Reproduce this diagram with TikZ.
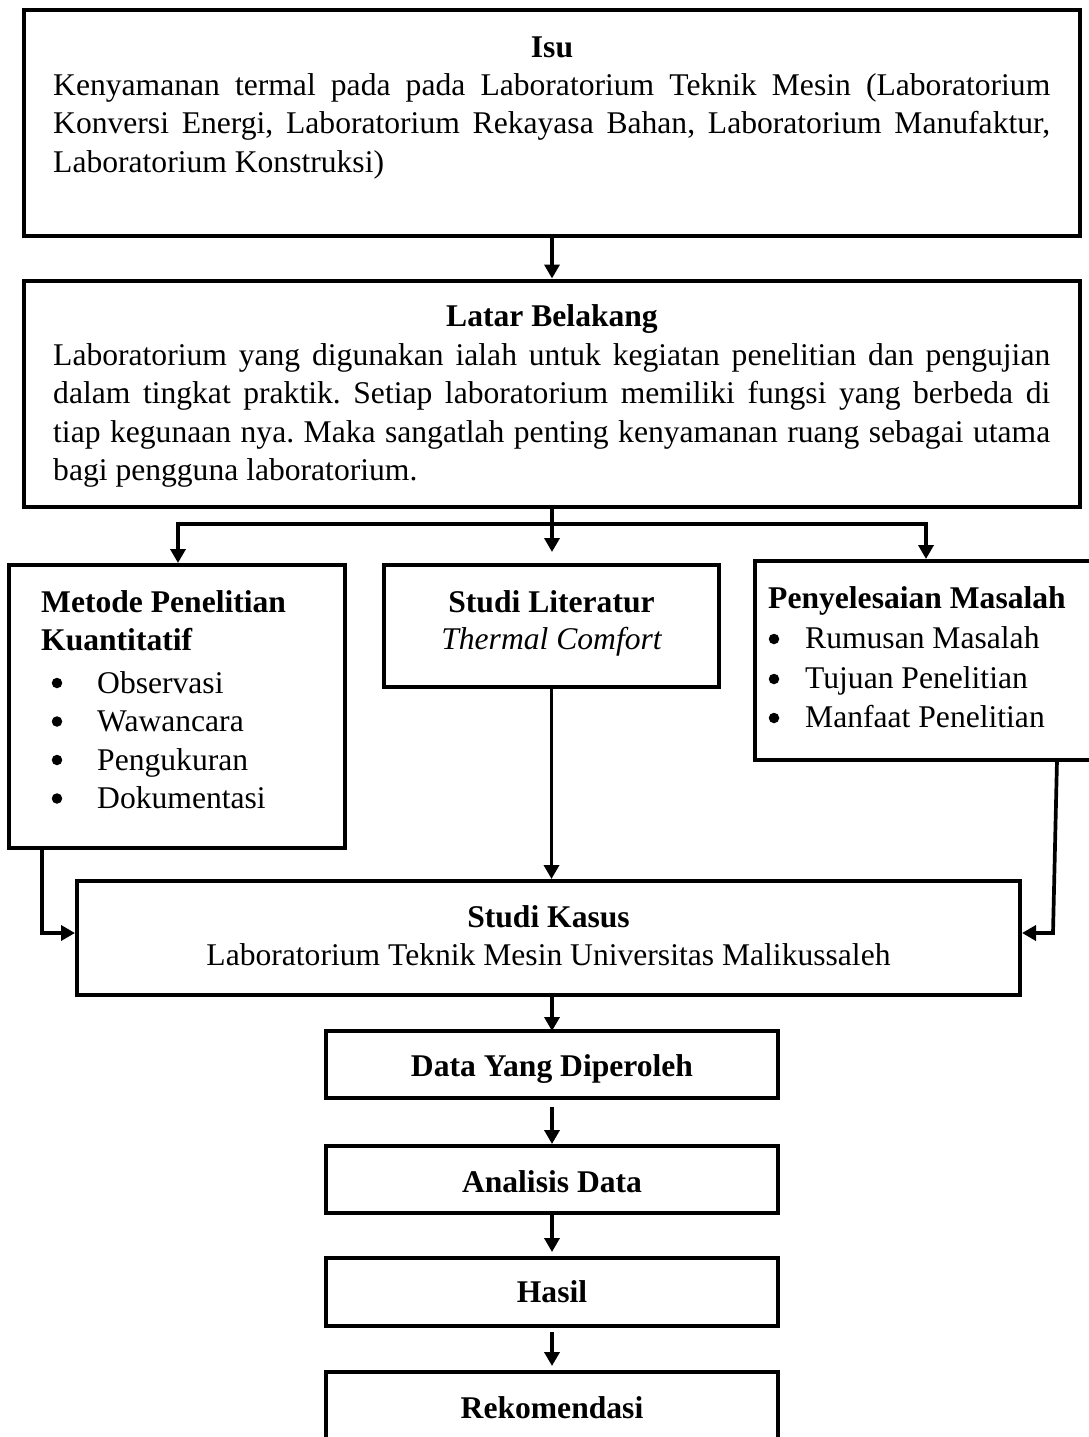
\documentclass[tikz,border=0pt]{standalone}
\usepackage{fontspec}
\setmainfont{Liberation Serif}
\usetikzlibrary{arrows.meta}
\frenchspacing
\begin{document}
\begin{tikzpicture}[x=1pt,y=-1pt,
  boxline/.style={draw=black,line width=4pt,rectangle,inner sep=0pt},
  conn/.style={line width=3.7pt},
  arr/.style={conn,-{Triangle[length=14pt,width=15pt]}},
  txt/.style={inner sep=0pt,anchor=base,font=\fontsize{31.6}{38.5}\selectfont},
  txtl/.style={txt,anchor=base west},
  bld/.style={txt,font=\fontsize{31.6}{38.5}\selectfont\bfseries},
  bldl/.style={bld,anchor=base west},
  bul/.style={circle,fill=black,draw=none,inner sep=0pt,minimum size=10.5pt}
  ]
\useasboundingbox (0,0) rectangle (1089,1437);
\clip (0,0) rectangle (1089,1437);
\fill[white] (0,0) rectangle (1089,1437);

% ---------- boxes ----------
\node[boxline,minimum width=1056pt,minimum height=225pt] (isu) at (552,123) {};
\node[boxline,minimum width=1056pt,minimum height=226.5pt] (latar) at (552,393.75) {};
\node[boxline,minimum width=336pt,minimum height=283pt] (metode) at (177,706.5) {};
\node[boxline,minimum width=335pt,minimum height=122pt] (studilit) at (551.5,626) {};
\node[boxline,minimum width=350pt,minimum height=199pt] (penyel) at (930,660.5) {};
\node[boxline,minimum width=943pt,minimum height=114pt] (kasus) at (548.5,938) {};
\node[boxline,minimum width=452pt,minimum height=67pt] (data) at (552,1064.5) {};
\node[boxline,minimum width=452pt,minimum height=67pt] (analisis) at (552,1179.5) {};
\node[boxline,minimum width=452pt,minimum height=68pt] (hasil) at (552,1292) {};
\node[boxline,minimum width=452pt,minimum height=73pt] (rek) at (552,1408.5) {};

% ---------- texts ----------
\node[bld] (tisu) at (552,57) {Isu};
\node[txtl] (tisu1) at (53,95) {\makebox[997pt][s]{Kenyamanan termal pada pada Laboratorium Teknik Mesin (Laboratorium}};
\node[txtl] (tisu2) at (53,133.5) {\makebox[997pt][s]{Konversi Energi, Laboratorium Rekayasa Bahan, Laboratorium Manufaktur,}};
\node[txtl] (tisu3) at (53,172) {Laboratorium Konstruksi)};

\node[bld] (tlatar) at (552,326) {Latar Belakang};
\node[txtl] (tlatar1) at (53,365) {\makebox[997pt][s]{Laboratorium yang digunakan ialah untuk kegiatan penelitian dan pengujian}};
\node[txtl] (tlatar2) at (53,403.5) {\makebox[997pt][s]{dalam tingkat praktik. Setiap laboratorium memiliki fungsi yang berbeda di}};
\node[txtl] (tlatar3) at (53,442) {\makebox[997pt][s]{tiap kegunaan nya. Maka sangatlah penting kenyamanan ruang sebagai utama}};
\node[txtl] (tlatar4) at (53,480.5) {bagi pengguna laboratorium.};

\node[bldl] (tmet1) at (41,612) {Metode Penelitian};
\node[bldl] (tmet2) at (41,650.5) {Kuantitatif};
\node[bul] (bm1) at (57,683) {};
\node[bul] (bm2) at (57,721.5) {};
\node[bul] (bm3) at (57,760) {};
\node[bul] (bm4) at (57,798.5) {};
\node[txtl] (im1) at (97,693) {Observasi};
\node[txtl] (im2) at (97,731.5) {Wawancara};
\node[txtl] (im3) at (97,770) {Pengukuran};
\node[txtl] (im4) at (97,808.5) {Dokumentasi};

\node[bld] (tlit1) at (551.5,612) {Studi Literatur};
\node[txt] (tlit2) at (551.5,649) {\itshape Thermal Comfort};

\node[bldl] (tpen) at (768,608) {Penyelesaian Masalah};
\node[bul] (bp1) at (774,639) {};
\node[bul] (bp2) at (774,679) {};
\node[bul] (bp3) at (774,718) {};
\node[txtl] (ip1) at (805,648) {Rumusan Masalah};
\node[txtl] (ip2) at (805,688) {Tujuan Penelitian};
\node[txtl] (ip3) at (805,727) {Manfaat Penelitian};

\node[bld] (tkas1) at (548.5,927) {Studi Kasus};
\node[txt] (tkas2) at (548.5,965) {Laboratorium Teknik Mesin Universitas Malikussaleh};

\node[bld] (tdata) at (552,1076) {Data Yang Diperoleh};
\node[bld] (tanal) at (552,1192) {Analisis Data};
\node[bld] (thasil) at (552,1302) {Hasil};
\node[bld] (trek) at (552,1418) {Rekomendasi};

% ---------- connectors ----------
\coordinate (jm) at (552,524);
\coordinate (jl) at (178,524);
\coordinate (jr) at (926,524);
\coordinate (mtip) at (552,552);
\coordinate (lb) at (42,848);
\coordinate (rb) at (1057,760);
\coordinate (rc) at (1053,933);

\draw[arr] (isu.south) -- (latar.north);
\draw[conn] (latar.south) -- (jm);
\draw[arr] (jm) -- (jl) -- (jl |- metode.north);
\draw[arr] (jm) -- (jr) -- (jr |- penyel.north);
\draw[arr] (jm) -- (mtip);

\draw[arr] (lb) |- ([yshift=5pt]kasus.west);
\draw[arr] (rb) -- (rc) -- (rc -| kasus.east);
\draw[arr] (studilit.south) -- (studilit.south |- kasus.north);

\draw[arr] (kasus.south -| data.north) -- ([yshift=-2pt]data.north);
\draw[arr] ([yshift=-7pt]data.south) -- (analisis.north);
\draw[arr] (analisis.south) -- ([yshift=4pt]hasil.north);
\draw[arr] ([yshift=-4pt]hasil.south) -- ([yshift=4pt]rek.north);
\end{tikzpicture}
\end{document}
